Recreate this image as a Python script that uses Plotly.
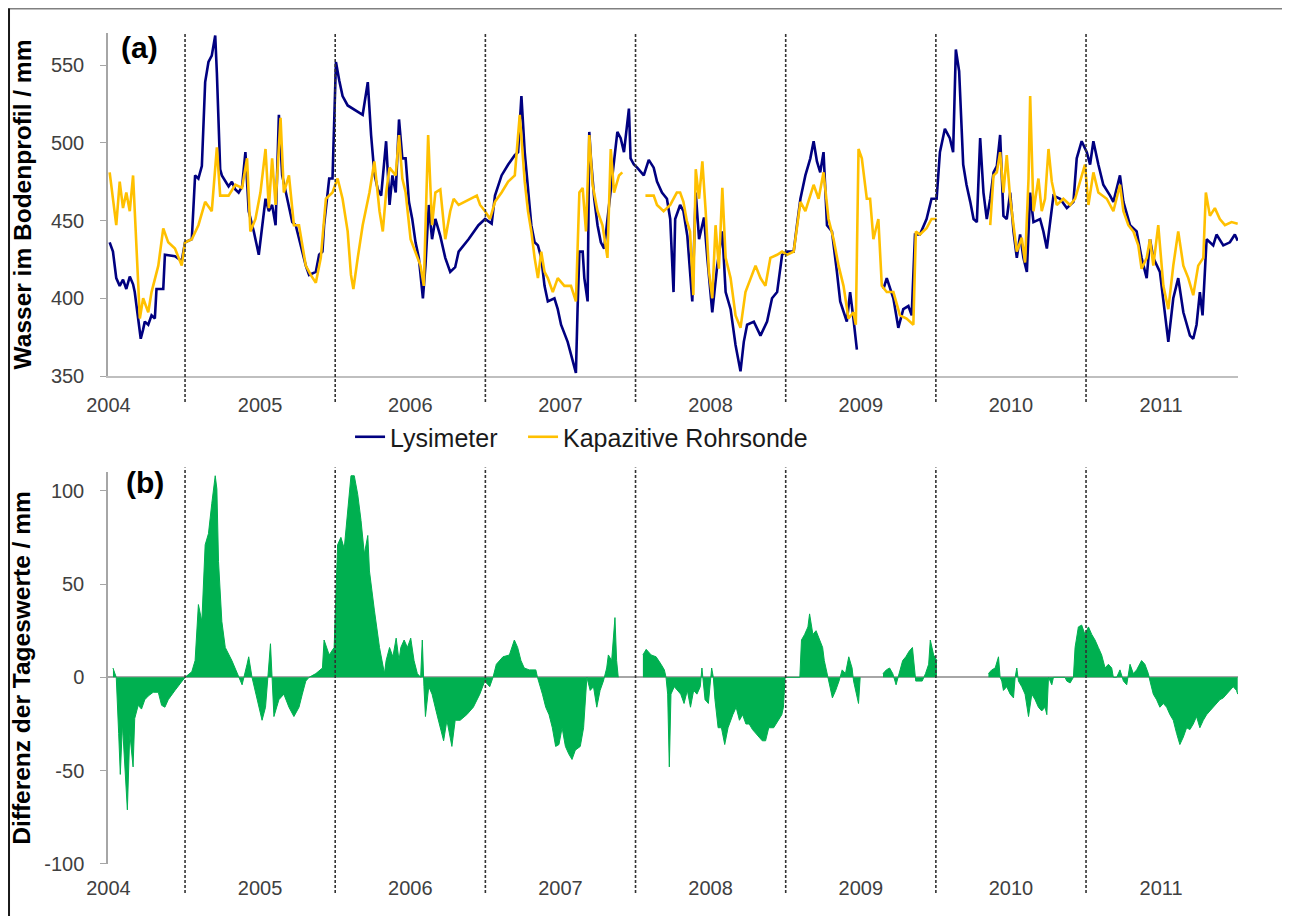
import plotly.graph_objects as go

# ---------------- data (decimal years) ----------------
lys_t = [2004.498, 2004.520, 2004.542, 2004.565, 2004.587, 2004.609, 2004.632, 2004.654, 2004.665, 2004.676,
         2004.705, 2004.721, 2004.732, 2004.755, 2004.777, 2004.799, 2004.810, 2004.855, 2004.866, 2004.933,
         2004.978, 2005.000, 2005.045, 2005.067, 2005.089, 2005.112, 2005.134, 2005.156, 2005.178, 2005.201,
         2005.212, 2005.234, 2005.245, 2005.290, 2005.312, 2005.335, 2005.357, 2005.380, 2005.402, 2005.424,
         2005.458, 2005.491, 2005.513, 2005.536, 2005.558, 2005.580, 2005.603, 2005.625, 2005.647, 2005.670,
         2005.692, 2005.714, 2005.737, 2005.781, 2005.804, 2005.826, 2005.871, 2005.893, 2005.915, 2005.926,
         2005.960, 2005.982, 2006.005, 2006.027, 2006.049, 2006.083, 2006.116, 2006.150, 2006.183, 2006.217,
         2006.239, 2006.261, 2006.284, 2006.306, 2006.339, 2006.362, 2006.381, 2006.403, 2006.425, 2006.447,
         2006.469, 2006.491, 2006.513, 2006.535, 2006.557, 2006.584, 2006.601, 2006.623, 2006.645, 2006.667,
         2006.700, 2006.733, 2006.766, 2006.799, 2006.822, 2006.888, 2006.954, 2006.998, 2007.042, 2007.064,
         2007.108, 2007.152, 2007.196, 2007.218, 2007.240, 2007.262, 2007.284, 2007.306, 2007.328, 2007.350,
         2007.372, 2007.394, 2007.416, 2007.460, 2007.482, 2007.504, 2007.548, 2007.581, 2007.603, 2007.614,
         2007.626, 2007.648, 2007.659, 2007.681, 2007.692, 2007.703, 2007.725, 2007.747, 2007.769, 2007.791,
         2007.846, 2007.879, 2007.901, 2007.923, 2007.956, 2007.967, 2007.989, 2008.011, 2008.055, 2008.088,
         2008.121, 2008.143, 2008.176, 2008.209, 2008.231, 2008.253, 2008.264, 2008.297, 2008.319, 2008.345,
         2008.378, 2008.401, 2008.423, 2008.456, 2008.478, 2008.511, 2008.544, 2008.578, 2008.600, 2008.633,
         2008.666, 2008.699, 2008.721, 2008.743, 2008.788, 2008.832, 2008.876, 2008.909, 2008.943, 2008.976,
         2009.009, 2009.053, 2009.075, 2009.098, 2009.131, 2009.164, 2009.186, 2009.208, 2009.230, 2009.252,
         2009.275, 2009.308, 2009.341, 2009.363, 2009.407, 2009.429, 2009.451, 2009.474, 2009.560, 2009.651,
         2009.673, 2009.717, 2009.750, 2009.783, 2009.817, 2009.839, 2009.861, 2009.894, 2009.938, 2009.971,
         2010.005, 2010.027, 2010.060, 2010.093, 2010.115, 2010.133, 2010.155, 2010.182, 2010.204, 2010.229,
         2010.251, 2010.273, 2010.295, 2010.317, 2010.339, 2010.362, 2010.384, 2010.406, 2010.428, 2010.450,
         2010.472, 2010.495, 2010.517, 2010.539, 2010.561, 2010.583, 2010.606, 2010.628, 2010.650, 2010.694,
         2010.716, 2010.739, 2010.783, 2010.827, 2010.872, 2010.916, 2010.938, 2010.971, 2011.005, 2011.027,
         2011.049, 2011.082, 2011.115, 2011.160, 2011.182, 2011.226, 2011.249, 2011.293, 2011.337, 2011.370,
         2011.404, 2011.426, 2011.448, 2011.492, 2011.515, 2011.548, 2011.581, 2011.614, 2011.648, 2011.692,
         2011.714, 2011.736, 2011.758, 2011.776, 2011.803, 2011.847, 2011.869, 2011.914, 2011.958, 2011.991,
         2012.010]
lys_v = [436, 430, 413, 408, 412, 406, 414, 409, 404, 395,
         374, 380, 385, 383, 389, 387, 406, 406, 428, 427,
         424, 436, 438, 479, 477, 485, 539, 552, 556, 569,
         545, 483, 479, 472, 475, 470, 468, 472, 494, 456,
         443, 428, 447, 464, 456, 460, 447, 518, 479, 468,
         458, 449, 447, 430, 421, 415, 417, 428, 430, 447,
         477, 477, 552, 540, 530, 524, 522, 520, 518, 539,
         505, 480, 470, 466, 501, 460, 479, 468, 515, 490,
         490, 462, 451, 436, 426, 400, 421, 460, 438, 451,
         440, 426, 417, 420, 430, 438, 447, 451, 448, 466,
         479, 486, 492, 494, 530, 494, 468, 447, 436, 434,
         426, 408, 398, 400, 393, 383, 372, 361, 352, 393,
         430, 430, 413, 398, 507, 490, 464, 447, 436, 432,
         481, 507, 503, 494, 522, 490, 486, 484, 479, 489,
         484, 475, 468, 464, 451, 404, 451, 460, 456, 440,
         398, 468, 438, 452, 426, 391, 421, 443, 404, 393,
         370, 353, 372, 383, 385, 376, 385, 400, 404, 428,
         430, 430, 447, 464, 479, 490, 501, 488, 481, 494,
         447, 443, 417, 398, 385, 404, 387, 367, None, 406,
         413, 400, 381, 393, 395, 389, 441, 441, 451, 464,
         464, 494, 509, 503, 494, 560, 546, 486, 473, 462,
         451, 449, 503, 468, 451, 464, 481, 485, 505, 453,
         451, 468, 443, 426, 441, 426, 417, 468, 449, 451,
         443, 432, 466, 464, 458, 462, 490, 501, 494, 486,
         501, 486, 473, 466, 462, 479, 462, 447, 443, 426,
         413, 438, 426, 417, 400, 372, 400, 413, 391, 376,
         374, 383, 404, 389, 438, 434, 441, 434, 436, 441,
         437]

kap_t = [2004.498, 2004.520, 2004.542, 2004.565, 2004.587, 2004.609, 2004.632, 2004.654, 2004.676, 2004.699,
         2004.721, 2004.755, 2004.777, 2004.799, 2004.822, 2004.855, 2004.888, 2004.933, 2004.978, 2005.000,
         2005.045, 2005.089, 2005.134, 2005.178, 2005.212, 2005.234, 2005.290, 2005.335, 2005.380, 2005.413,
         2005.435, 2005.469, 2005.502, 2005.536, 2005.558, 2005.580, 2005.603, 2005.636, 2005.658, 2005.692,
         2005.725, 2005.759, 2005.804, 2005.837, 2005.871, 2005.904, 2005.938, 2005.982, 2006.016, 2006.049,
         2006.083, 2006.105, 2006.121, 2006.150, 2006.183, 2006.228, 2006.261, 2006.295, 2006.317, 2006.339,
         2006.362, 2006.403, 2006.425, 2006.447, 2006.469, 2006.502, 2006.535, 2006.568, 2006.590, 2006.619,
         2006.645, 2006.667, 2006.700, 2006.733, 2006.766, 2006.789, 2006.822, 2006.866, 2006.910, 2006.943,
         2006.965, 2006.998, 2007.031, 2007.064, 2007.108, 2007.152, 2007.196, 2007.229, 2007.262, 2007.284,
         2007.306, 2007.328, 2007.350, 2007.372, 2007.394, 2007.416, 2007.449, 2007.482, 2007.526, 2007.570,
         2007.603, 2007.626, 2007.648, 2007.670, 2007.692, 2007.714, 2007.747, 2007.780, 2007.813, 2007.835,
         2007.857, 2007.890, 2007.912, 2007.990, 2008.066, 2008.121, 2008.143, 2008.187, 2008.231, 2008.275,
         2008.297, 2008.319, 2008.341, 2008.363, 2008.385, 2008.401, 2008.423, 2008.445, 2008.467, 2008.489,
         2008.511, 2008.533, 2008.555, 2008.578, 2008.600, 2008.633, 2008.666, 2008.699, 2008.732, 2008.766,
         2008.799, 2008.832, 2008.865, 2008.898, 2008.943, 2008.976, 2009.009, 2009.053, 2009.075, 2009.098,
         2009.131, 2009.164, 2009.186, 2009.219, 2009.252, 2009.285, 2009.319, 2009.352, 2009.385, 2009.418,
         2009.451, 2009.467, 2009.485, 2009.507, 2009.540, 2009.562, 2009.584, 2009.617, 2009.640, 2009.673,
         2009.717, 2009.761, 2009.805, 2009.850, 2009.867, 2009.894, 2009.938, 2009.971, 2010.005, 2010.180,
         2010.362, 2010.384, 2010.406, 2010.428, 2010.450, 2010.472, 2010.495, 2010.517, 2010.539, 2010.572,
         2010.594, 2010.617, 2010.628, 2010.650, 2010.683, 2010.705, 2010.727, 2010.750, 2010.772, 2010.805,
         2010.849, 2010.894, 2010.927, 2010.960, 2010.993, 2011.016, 2011.049, 2011.082, 2011.138, 2011.182,
         2011.226, 2011.249, 2011.282, 2011.315, 2011.348, 2011.370, 2011.404, 2011.426, 2011.448, 2011.481,
         2011.515, 2011.548, 2011.581, 2011.614, 2011.648, 2011.681, 2011.714, 2011.747, 2011.781, 2011.798,
         2011.825, 2011.858, 2011.891, 2011.925, 2011.969, 2012.010]
kap_v = [481, 464, 447, 475, 458, 468, 456, 479, 436, 387,
         400, 391, 404, 413, 421, 445, 436, 432, 421, 436,
         438, 447, 462, 456, 497, 466, 466, 473, 471, 490,
         443, 451, 468, 496, 458, 490, 460, 516, 468, 479,
         447, 447, 421, 415, 410, 426, 464, 468, 477, 464,
         443, 415, 406, 426, 447, 468, 488, 456, 443, 468,
         484, 479, 505, 477, 468, 438, 430, 421, 408, 505,
         447, 468, 470, 438, 456, 464, 460, 462, 464, 466,
         460, 456, 451, 462, 468, 475, 479, 518, 475, 456,
         443, 426, 413, 430, 417, 413, 404, 413, 408, 408,
         398, 468, 471, 443, 505, 473, 456, 447, 426, 496,
         468, 479, 481, None, 466, 466, 460, 456, 460, 468,
         468, 462, 450, 443, 402, 483, 464, 488, 456, 417,
         400, 447, 419, 471, 426, 413, 389, 381, 404, 413,
         421, 413, 408, 426, 428, 430, 428, 430, 447, 462,
         456, 466, 473, 464, 481, 451, 438, 421, 408, 387,
         391, 383, 496, 490, 464, 464, 438, 451, 408, 404,
         404, 389, 387, 383, 443, 441, 445, 451, 451, None,
         447, 479, 481, 494, 468, 492, 464, 447, 430, 439,
         423, 477, 530, 456, 477, 456, 464, 496, 475, 460,
         464, 460, 464, 475, 486, 460, 481, 468, 464, 456,
         473, 456, 447, 443, 434, 419, 426, 438, 421, 447,
         408, 393, 421, 443, 421, 413, 402, 421, 426, 468,
         453, 458, 451, 447, 449, 448]

diff_t = [2004.520, 2004.542, 2004.558, 2004.569, 2004.583, 2004.598, 2004.616, 2004.632, 2004.654, 2004.665,
          2004.688, 2004.710, 2004.732, 2004.755, 2004.788, 2004.822, 2004.844, 2004.866, 2004.888, 2004.933,
          2004.978, 2005.000, 2005.045, 2005.067, 2005.089, 2005.112, 2005.134, 2005.156, 2005.178, 2005.201,
          2005.212, 2005.223, 2005.245, 2005.268, 2005.312, 2005.346, 2005.380, 2005.413, 2005.424, 2005.446,
          2005.480, 2005.513, 2005.536, 2005.558, 2005.569, 2005.592, 2005.625, 2005.658, 2005.692, 2005.725,
          2005.759, 2005.781, 2005.804, 2005.826, 2005.871, 2005.915, 2005.926, 2005.960, 2005.993, 2006.016,
          2006.038, 2006.060, 2006.083, 2006.105, 2006.127, 2006.150, 2006.172, 2006.194, 2006.217, 2006.228,
          2006.261, 2006.295, 2006.328, 2006.339, 2006.362, 2006.384, 2006.406, 2006.425, 2006.437, 2006.459,
          2006.481, 2006.503, 2006.525, 2006.547, 2006.569, 2006.580, 2006.591, 2006.601, 2006.623, 2006.645,
          2006.678, 2006.700, 2006.722, 2006.744, 2006.766, 2006.777, 2006.799, 2006.832, 2006.876, 2006.920,
          2006.963, 2006.996, 2007.029, 2007.051, 2007.073, 2007.117, 2007.160, 2007.193, 2007.215, 2007.237,
          2007.259, 2007.292, 2007.336, 2007.347, 2007.380, 2007.402, 2007.424, 2007.446, 2007.468, 2007.490,
          2007.511, 2007.533, 2007.555, 2007.577, 2007.599, 2007.632, 2007.654, 2007.676, 2007.698, 2007.720,
          2007.742, 2007.764, 2007.786, 2007.808, 2007.819, 2007.841, 2007.863, 2007.874, 2007.885, 2007.970,
          2008.049, 2008.071, 2008.104, 2008.137, 2008.170, 2008.192, 2008.203, 2008.214, 2008.225, 2008.236,
          2008.258, 2008.301, 2008.323, 2008.345, 2008.366, 2008.387, 2008.409, 2008.431, 2008.442, 2008.463,
          2008.485, 2008.507, 2008.518, 2008.529, 2008.550, 2008.572, 2008.594, 2008.616, 2008.648, 2008.670,
          2008.692, 2008.713, 2008.735, 2008.757, 2008.779, 2008.800, 2008.822, 2008.844, 2008.866, 2008.887,
          2008.920, 2008.952, 2008.974, 2008.985, 2008.996, 2009.094, 2009.105, 2009.126, 2009.148, 2009.159,
          2009.181, 2009.202, 2009.224, 2009.246, 2009.257, 2009.279, 2009.311, 2009.333, 2009.355, 2009.376,
          2009.398, 2009.420, 2009.442, 2009.452, 2009.474, 2009.485, 2009.496, 2009.570, 2009.648, 2009.670,
          2009.692, 2009.713, 2009.735, 2009.757, 2009.779, 2009.800, 2009.822, 2009.844, 2009.855, 2009.866,
          2009.909, 2009.931, 2009.952, 2009.963, 2009.985, 2010.007, 2010.180, 2010.350, 2010.372, 2010.395,
          2010.417, 2010.428, 2010.439, 2010.450, 2010.472, 2010.495, 2010.517, 2010.528, 2010.539, 2010.550,
          2010.572, 2010.594, 2010.617, 2010.639, 2010.661, 2010.683, 2010.705, 2010.727, 2010.739, 2010.750,
          2010.772, 2010.783, 2010.860, 2010.872, 2010.894, 2010.916, 2010.927, 2010.949, 2010.971, 2010.993,
          2011.016, 2011.038, 2011.060, 2011.082, 2011.104, 2011.127, 2011.149, 2011.171, 2011.182, 2011.204,
          2011.226, 2011.249, 2011.271, 2011.293, 2011.315, 2011.337, 2011.370, 2011.392, 2011.415, 2011.426,
          2011.448, 2011.470, 2011.492, 2011.515, 2011.537, 2011.559, 2011.581, 2011.603, 2011.625, 2011.648,
          2011.670, 2011.692, 2011.714, 2011.736, 2011.758, 2011.781, 2011.803, 2011.825, 2011.847, 2011.869,
          2011.891, 2011.914, 2011.936, 2011.958, 2011.980, 2012.002, 2012.010]
diff_v = [5, 0, -30, -52, -25, -45, -71, -30, -48, -22,
          -15, -17, -12, -10, -8, -8, -15, -16, -12, -7,
          -2, 0, 3, 9, 39, 30, 71, 77, 93, 108,
          101, 62, 30, 16, 9, 2, -4, 7, 11, 0,
          -12, -23, -16, 5, 18, -21, -12, -9, -16, -21,
          -16, -9, -2, 0, 2, 5, 20, 12, 16, 71,
          75, 69, 89, 108, 108, 98, 84, 66, 76, 57,
          36, 16, 2, 9, 16, 11, 21, 9, 16, 20,
          16, 21, 9, 2, 0, 20, -5, -21, -5, -9,
          -20, -27, -34, -23, -32, -37, -23, -23, -20, -16,
          -9, -2, -5, 0, 7, 11, 12, 20, 16, 9,
          5, 4, 4, 0, -9, -16, -20, -27, -37, -36,
          -27, -37, -41, -44, -39, -37, -27, 0, -7, -5,
          -16, -7, -2, 5, 12, 9, 32, 9, 0, None,
          12, 15, 12, 11, 7, 4, 0, -9, -48, -9,
          -5, -9, -14, -7, -16, -7, -9, -5, 5, -12,
          -14, 5, 0, -12, -27, -27, -36, -27, -20, -16,
          -23, -20, -25, -25, -28, -30, -32, -34, -34, -27,
          -27, -23, -20, -16, 0, 0, 20, 23, 27, 34,
          23, 25, 20, 16, 9, 0, -11, -7, -2, 4,
          2, 11, 5, -2, -9, -14, 0, None, 2, 4,
          5, 2, -4, 2, 9, 11, 14, 16, 5, -2,
          -2, 2, 7, 20, 12, 9, None, 2, 4, 5,
          11, 0, -2, -7, -5, -9, -11, 0, 5, -2,
          -5, -9, -21, -9, -12, -16, -18, -16, -20, 0,
          -4, 0, 0, -2, -3, 0, 16, 27, 28, 23,
          27, 23, 20, 16, 12, 5, 7, 5, 0, 0,
          4, -2, -4, 7, 2, 4, 9, 7, 2, -2,
          -9, -12, -16, -14, -16, -20, -23, -30, -36, -32,
          -27, -28, -25, -21, -27, -23, -20, -18, -16, -14,
          -12, -11, -9, -7, -5, -7, -9]

year_bounds = [2005, 2006, 2007, 2008, 2009, 2010, 2011]
tick_pos = [2004.49, 2005.5, 2006.5, 2007.5, 2008.5, 2009.5, 2010.5, 2011.5]
tick_text = ["2004", "2005", "2006", "2007", "2008", "2009", "2010", "2011"]
y1_ticks = [350, 400, 450, 500, 550]
y2_ticks = [-100, -50, 0, 50, 100]

# ---------------- figure ----------------
NAVY = "#000080"
GOLD = "#FFC000"
GREEN = "#00B050"
FONT = "Liberation Sans, Arial, sans-serif"

fig = go.Figure()
fig.add_trace(go.Scatter(x=lys_t, y=lys_v, mode="lines", name="Lysimeter", legendwidth=128,
                         line=dict(color=NAVY, width=2.6), xaxis="x", yaxis="y"))
fig.add_trace(go.Scatter(x=kap_t, y=kap_v, mode="lines", name="Kapazitive Rohrsonde",
                         line=dict(color=GOLD, width=2.6), xaxis="x", yaxis="y"))

# difference series: one filled trace per contiguous run (None marks a data gap)
seg_x, seg_y = [], []
for t, v in zip(diff_t + [None], diff_v + [None]):
    if v is None:
        if seg_x:
            fig.add_trace(go.Scatter(x=seg_x, y=seg_y, mode="lines", fill="tozeroy", fillcolor=GREEN,
                                     line=dict(color=GREEN, width=1), showlegend=False,
                                     xaxis="x2", yaxis="y2"))
        seg_x, seg_y = [], []
    else:
        seg_x.append(t)
        seg_y.append(v)

xr = [2004.487, 2012.012]
common_x = dict(range=xr, tickmode="array", tickvals=tick_pos, ticktext=tick_text,
                showgrid=False, zeroline=False, ticks="", ticklabelstandoff=10,
                tickfont=dict(family=FONT, size=20, color="#404040"))

shapes = []
for yb in year_bounds:
    shapes.append(dict(type="line", xref="x", yref="paper", x0=yb, x1=yb, y0=0.556, y1=1.0,
                       line=dict(color="#333333", width=1.6, dash="3px,2px")))
    shapes.append(dict(type="line", xref="x", yref="paper", x0=yb, x1=yb, y0=-0.035, y1=0.477,
                       line=dict(color="#333333", width=1.6, dash="3px,2px")))
# outer frame (top and left edges of the figure)
shapes.append(dict(type="line", xref="paper", yref="paper", x0=-0.0885, x1=1.05, y0=1.0295, y1=1.0295,
                   line=dict(color="#808080", width=2)))
shapes.append(dict(type="line", xref="paper", yref="paper", x0=-0.0876, x1=-0.0876, y0=1.0295, y1=-0.07,
                   line=dict(color="#1a1a1a", width=2)))

fig.update_layout(
    width=1282, height=908,
    margin=dict(l=100, r=52, t=25, b=52),
    paper_bgcolor="white", plot_bgcolor="white",
    font=dict(family=FONT, color="#404040"),
    xaxis=dict(domain=[0, 1], anchor="y", showline=True, linecolor="#BFBFBF", linewidth=2,
               **common_x),
    yaxis=dict(domain=[0.5872, 1.0], anchor="x", range=[350, 570.6], tickmode="array",
               tickvals=y1_ticks, ticktext=[str(v) for v in y1_ticks],
               showgrid=False, zeroline=False, showline=True, linecolor="#A6A6A6", linewidth=1.5,
               ticks="outside", ticklen=6, tickcolor="#A6A6A6", ticklabelstandoff=12,
               tickfont=dict(family=FONT, size=20, color="#404040"),
               title=dict(text="<b>Wasser im Bodenprofil / mm</b>", standoff=12,
                          font=dict(family=FONT, size=24.5, color="#000000")),
               automargin=False),
    xaxis2=dict(domain=[0, 1], anchor="y2", showline=False, **common_x),
    yaxis2=dict(domain=[0, 0.4717], anchor="x2", range=[-100, 110], tickmode="array",
                tickvals=y2_ticks, ticktext=[str(v) for v in y2_ticks],
                showgrid=False, zeroline=True, zerolinecolor="#A6A6A6", zerolinewidth=2,
                showline=True, linecolor="#A6A6A6", linewidth=1.5,
                ticks="outside", ticklen=6, tickcolor="#A6A6A6", ticklabelstandoff=12,
                tickfont=dict(family=FONT, size=20, color="#404040"),
                title=dict(text="<b>Differenz der Tageswerte / mm</b>", standoff=12,
                           font=dict(family=FONT, size=24.5, color="#000000")),
                automargin=False),
    showlegend=True,
    legend=dict(orientation="h", x=0.2142, y=0.5138, xanchor="left", yanchor="middle",
                font=dict(family=FONT, size=25, color="#1a1a1a"), bgcolor="rgba(0,0,0,0)",
                itemwidth=30, tracegroupgap=0),
    shapes=shapes,
    annotations=[
        dict(text="<b>(a)</b>", xref="paper", yref="paper", x=0.0283, y=0.983, showarrow=False,
             font=dict(family=FONT, size=30, color="#000000"), xanchor="center", yanchor="middle"),
        dict(text="<b>(b)</b>", xref="paper", yref="paper", x=0.0327, y=0.459, showarrow=False,
             font=dict(family=FONT, size=30, color="#000000"), xanchor="center", yanchor="middle"),
    ],
)

fig.write_html("out.html")
